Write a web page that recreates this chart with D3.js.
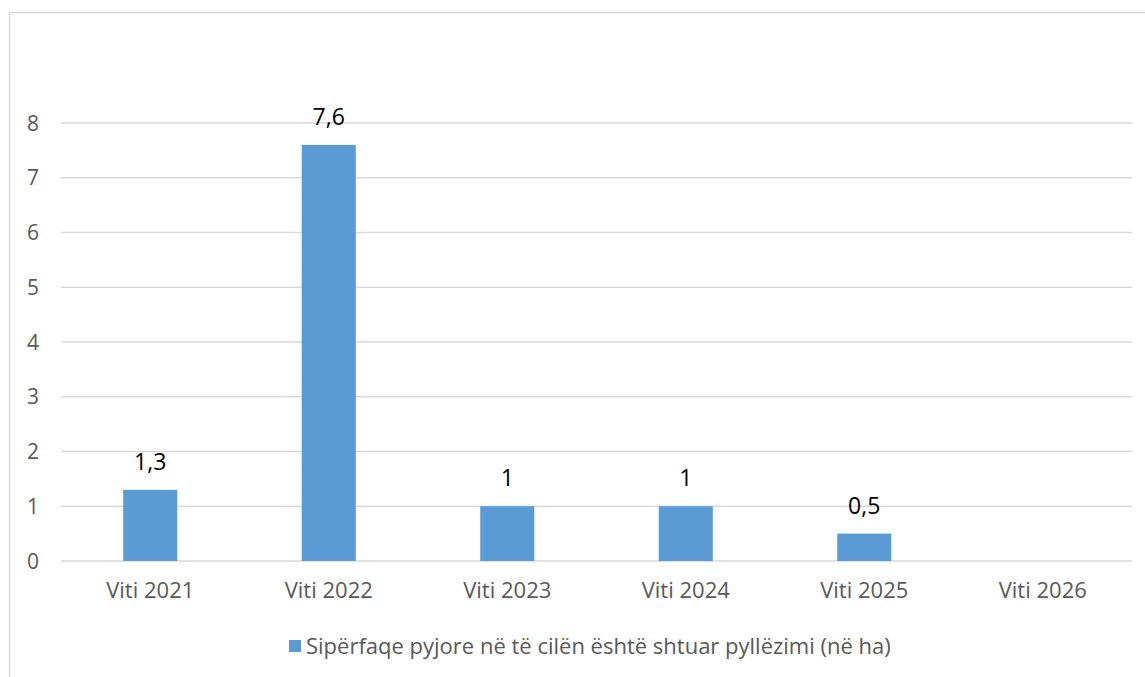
<!DOCTYPE html>
<html>
<head>
<meta charset="utf-8">
<script src="https://cdn.jsdelivr.net/npm/d3@7"></script>
<style>
  html, body { margin: 0; padding: 0; background: #fff; }
  svg { display: block; }
  text { font-family: "Open Sans", "Liberation Sans", Arial, sans-serif; }
</style>
</head>
<body>
<svg id="chart" width="1145" height="677"></svg>
<script>
const categories = ["Viti 2021", "Viti 2022", "Viti 2023", "Viti 2024", "Viti 2025", "Viti 2026"];
const values = [1.3, 7.6, 1, 1, 0.5, null];
const valueLabels = ["1,3", "7,6", "1", "1", "0,5", ""];
const yTicks = [0, 1, 2, 3, 4, 5, 6, 7, 8];
const seriesName = "Sipërfaqe pyjore në të cilën është shtuar pyllëzimi (në ha)";

const svg = d3.select("#chart");
const W = 1145, H = 677;

// chart border
svg.append("rect")
  .attr("x", 9.5).attr("y", 12.5)
  .attr("width", W + 20).attr("height", H + 20)
  .attr("fill", "none").attr("stroke", "#D9D9D9").attr("stroke-width", 1.5);

const x = d3.scaleBand().domain(categories).range([61, 1132]).padding(0);
const y = d3.scaleLinear().domain([0, 8]).range([561, 123]);
const barW = x.bandwidth() * 0.303;

// gridlines
svg.append("g").selectAll("line").data(yTicks).join("line")
  .attr("x1", 61).attr("x2", 1132)
  .attr("y1", d => y(d)).attr("y2", d => y(d))
  .attr("stroke", "#D9D9D9").attr("stroke-width", 1.3);

// y labels
svg.append("g").selectAll("text").data(yTicks).join("text")
  .attr("x", 39).attr("y", d => y(d))
  .attr("dy", "0.36em")
  .attr("text-anchor", "end")
  .attr("font-size", 21)
  .attr("fill", "#595959")
  .text(d => d);

// bars
const data = categories.map((c, i) => ({ c, v: values[i], l: valueLabels[i] }));
svg.append("g").selectAll("rect").data(data.filter(d => d.v != null)).join("rect")
  .attr("x", d => x(d.c) + x.bandwidth() / 2 - barW / 2)
  .attr("y", d => y(d.v))
  .attr("width", barW)
  .attr("height", d => y(0) - y(d.v))
  .attr("fill", "#5B9BD5");

// value labels
svg.append("g").selectAll("text").data(data.filter(d => d.v != null)).join("text")
  .attr("x", d => x(d.c) + x.bandwidth() / 2)
  .attr("y", d => y(d.v) - 20)
  .attr("text-anchor", "middle")
  .attr("font-size", 23)
  .attr("fill", "#000")
  .text(d => d.l);

// x labels
svg.append("g").selectAll("text").data(categories).join("text")
  .attr("x", d => x(d) + x.bandwidth() / 2)
  .attr("y", 598)
  .attr("text-anchor", "middle")
  .attr("font-size", 22)
  .attr("fill", "#595959")
  .text(d => d);

// legend
const lg = svg.append("g");
lg.append("rect").attr("x", 289).attr("y", 640).attr("width", 12).attr("height", 12).attr("fill", "#5B9BD5");
lg.append("text").attr("x", 306).attr("y", 654)
  .attr("font-size", 22).attr("fill", "#595959")
  .text(seriesName);
</script>
</body>
</html>
